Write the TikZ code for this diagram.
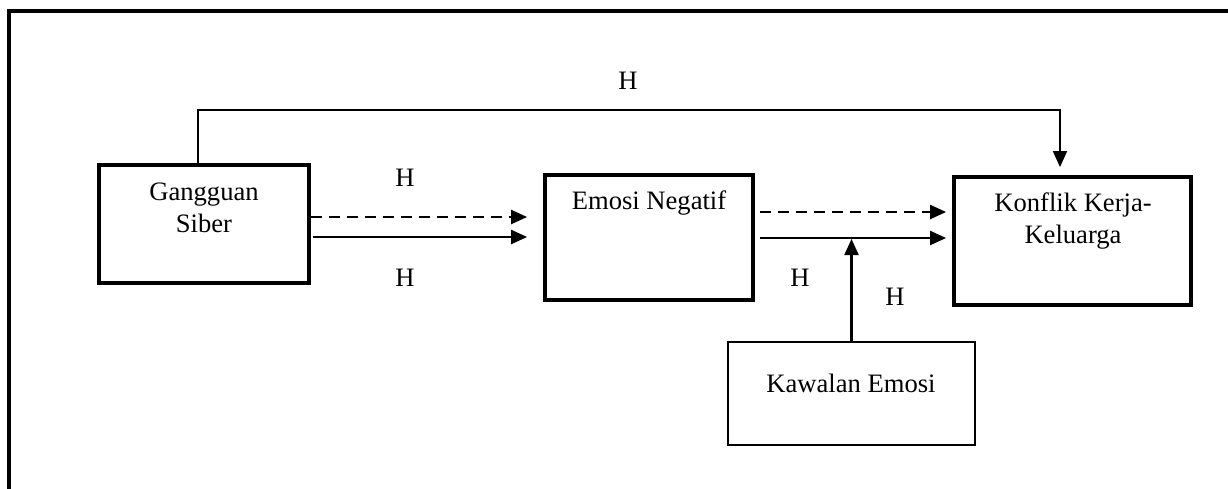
\documentclass[tikz,border=0pt]{standalone}
\usepackage{fontspec}
\setmainfont{Liberation Serif}
\usetikzlibrary{arrows.meta}
\begin{document}
\begin{tikzpicture}[x=1pt,y=-1pt,
  font=\fontsize{26.6}{32}\selectfont,
  box/.style={draw,line width=3.8pt,inner sep=0pt},
  thinbox/.style={draw,line width=2.4pt,inner sep=0pt},
  lbl/.style={inner sep=0pt,align=center},
  arr/.style={line width=2.2pt,-{Triangle[length=16pt,width=14pt]}},
  darr/.style={arr,dash pattern=on 11pt off 7pt}
]
\useasboundingbox (0,0) rectangle (1228,488);
\draw[line width=3.2pt] (9,490) -- (9,11) -- (1230,11);

\node[box,minimum width=210pt,minimum height=118pt] (gs) at (204,224) {};
\node[box,minimum width=208pt,minimum height=125pt] (en) at (649,237.5) {};
\node[box,minimum width=237pt,minimum height=128pt] (kk) at (1072.5,241) {};
\node[thinbox,minimum width=246.5pt,minimum height=102.5pt] (ke) at (851.5,393.5) {};

\node[lbl] (tgs) at (204,208) {Gangguan\\Siber};
\node[lbl] (ten) at (649,203) {Emosi Negatif};
\node[lbl] (tkk) at (1073,221) {Konflik Kerja-\\Keluarga};
\node[lbl] (tke) at (851,383) {Kawalan Emosi};

\node[lbl] (h1) at (628,80.5) {H};
\node[lbl] (h2) at (405,178) {H};
\node[lbl] (h3) at (405,278) {H};
\node[lbl] (h4) at (800,278) {H};
\node[lbl] (h5) at (895,297) {H};

% top path
\coordinate (a1) at (198,110);
\coordinate (a2) at (1060,110);
\draw[line width=1.5pt,-{Triangle[length=16pt,width=14pt]},shorten >=8pt]
  (a1 |- gs.north) -- (a1) -- (a2) -- (a2 |- kk.north);

% first pair
\draw[darr,shorten >=16pt] ([yshift=7pt]gs.east) -- ([yshift=7pt]gs.east -| en.west);
\draw[arr,shorten >=16pt] ([yshift=-13pt,xshift=2pt]gs.east) -- ([yshift=-13pt]gs.east -| en.west);

% second pair
\coordinate (s1) at ([xshift=5pt,yshift=25.5pt]en.east);
\coordinate (s2) at ([xshift=5pt,yshift=-0.5pt]en.east);
\draw[darr,shorten >=6pt] (s1) -- (s1 -| kk.west);
\draw[arr,shorten >=6pt] (s2) -- (s2 -| kk.west);

% moderator
\draw[arr,shorten >=1pt] (ke.north) -- (ke.north |- s2);
\end{tikzpicture}
\end{document}
